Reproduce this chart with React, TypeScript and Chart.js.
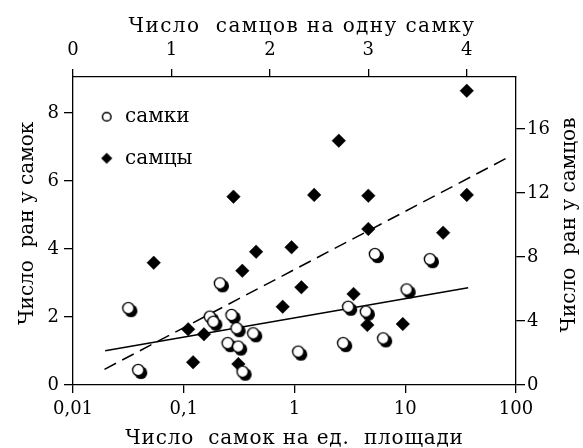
import React, { useEffect, useRef } from 'react';
import { Chart, registerables } from 'chart.js';

Chart.register(...registerables);

const FONT = '"DejaVu Serif", serif';

// Females: density (bottom log axis) vs wounds (left axis)
const femaleDensity = [0.0316, 0.0388, 0.172, 0.185, 0.212, 0.249, 0.27, 0.3, 0.31, 0.34, 0.424, 1.08, 2.75, 3.05, 4.41, 5.32, 6.32, 10.3, 16.7];
const femaleWounds = [2.26, 0.44, 2.01, 1.86, 2.99, 1.23, 2.06, 1.67, 1.13, 0.39, 1.52, 0.98, 1.23, 2.3, 2.16, 3.85, 1.37, 2.81, 3.7];

// Males: males per female (top axis) vs wounds (right axis)
const maleRatio = [0.82, 1.17, 1.22, 1.33, 1.63, 1.68, 1.72, 1.86, 2.13, 2.22, 2.32, 2.45, 2.7, 2.85, 2.99, 3.0, 3.0, 3.35, 3.76, 4.0, 4.0];
const maleWounds = [7.64, 3.48, 1.42, 3.17, 11.77, 1.31, 7.14, 8.33, 4.89, 8.61, 6.11, 11.88, 15.27, 5.69, 3.75, 9.75, 11.83, 3.81, 9.52, 18.39, 11.88];

// Regression lines
const femaleFitX = [0.0195, 37.0];
const femaleFitY = [1.01, 2.86];
const maleFitX = [0.32, 4.42];
const maleFitY = [0.98, 14.23];

// Ticks
const densityTicks = [0.01, 0.1, 1, 10, 100];
const ratioTicks = [0, 1, 2, 3, 4];
const femaleWoundTicks = [0, 2, 4, 6, 8];
const maleWoundTicks = [0, 4, 8, 12, 16];

const legendLabels = ['самки', 'самцы'];
const topTitle = 'Число  самцов на одну самку';
const bottomTitle = 'Число  самок на ед.  площади';
const leftTitle = 'Число  ран у самок';
const rightTitle = 'Число  ран у самцов';

function makeShadowCircle(): HTMLCanvasElement {
  const c = document.createElement('canvas');
  c.width = 22;
  c.height = 22;
  const g = c.getContext('2d')!;
  g.fillStyle = '#000';
  g.beginPath();
  g.arc(13.7, 13.7, 6.4, 0, Math.PI * 2);
  g.fill();
  g.fillStyle = '#fff';
  g.strokeStyle = '#000';
  g.lineWidth = 1.4;
  g.beginPath();
  g.arc(11, 11, 5.6, 0, Math.PI * 2);
  g.fill();
  g.stroke();
  return c;
}

function makeLegendCircle(): HTMLCanvasElement {
  const c = document.createElement('canvas');
  c.width = 16;
  c.height = 14;
  const g = c.getContext('2d')!;
  g.fillStyle = '#fff';
  g.strokeStyle = '#000';
  g.lineWidth = 1.5;
  g.beginPath();
  g.arc(9.9, 7, 4.3, 0, Math.PI * 2);
  g.fill();
  g.stroke();
  return c;
}

function makeLegendDiamond(): HTMLCanvasElement {
  const c = document.createElement('canvas');
  c.width = 16;
  c.height = 14;
  const g = c.getContext('2d')!;
  g.fillStyle = '#000';
  const cx = 9.9, cy = 7, r = 5.6;
  g.beginPath();
  g.moveTo(cx - r, cy);
  g.lineTo(cx, cy - r);
  g.lineTo(cx + r, cy);
  g.lineTo(cx, cy + r);
  g.closePath();
  g.fill();
  return c;
}

const titlesPlugin = {
  id: 'axisTitles',
  afterDraw(chart: any) {
    const { ctx, chartArea } = chart;
    const { left, right, top, bottom } = chartArea;
    ctx.save();
    ctx.fillStyle = '#000';
    ctx.font = `20px ${FONT}`;
    ctx.textAlign = 'center';
    ctx.textBaseline = 'alphabetic';
    ctx.letterSpacing = '1.4px';
    ctx.fillText(topTitle, (left + right) / 2 + 7.5, top - 45.3);
    ctx.letterSpacing = '0.8px';
    ctx.fillText(bottomTitle, (left + right) / 2, bottom + 59);
    ctx.letterSpacing = '0px';
    ctx.save();
    ctx.translate(left - 39.7, (top + bottom) / 2 - 7.7);
    ctx.rotate(-Math.PI / 2);
    ctx.fillText(leftTitle, 0, 0);
    ctx.restore();
    ctx.save();
    ctx.translate(right + 59, (top + bottom) / 2 - 6);
    ctx.rotate(-Math.PI / 2);
    ctx.fillText(rightTitle, 0, 0);
    ctx.restore();
    ctx.restore();
  },
};

export default function App() {
  const ref = useRef<HTMLCanvasElement>(null);

  useEffect(() => {
    const canvas = ref.current;
    if (!canvas) return;
    const circle = makeShadowCircle();
    const legCircle = makeLegendCircle();
    const legDiamond = makeLegendDiamond();
    const tickFont = { family: FONT, size: 18 };
    const axisLine = { color: '#000', width: 1.3 };
    const gridOpts = (len: number) => ({
      display: true,
      drawOnChartArea: false,
      drawTicks: true,
      tickLength: len,
      color: '#000',
      lineWidth: 1.3,
    });

    const chart = new Chart(canvas, {
      type: 'scatter',
      data: {
        datasets: [
          {
            label: legendLabels[0],
            data: femaleDensity.map((x, i) => ({ x, y: femaleWounds[i] })),
            xAxisID: 'x',
            yAxisID: 'y',
            pointStyle: circle,
            pointRadius: 7,
            backgroundColor: '#fff',
            borderColor: '#000',
          },
          {
            label: legendLabels[1],
            data: maleRatio.map((x, i) => ({ x, y: maleWounds[i] })),
            xAxisID: 'x2',
            yAxisID: 'y2',
            pointStyle: 'rectRot',
            pointRadius: 6.8,
            backgroundColor: '#000',
            borderColor: '#000',
            borderWidth: 0.5,
          },
          {
            label: 'fitF',
            data: femaleFitX.map((x, i) => ({ x, y: femaleFitY[i] })),
            xAxisID: 'x',
            yAxisID: 'y',
            showLine: true,
            pointRadius: 0,
            borderColor: '#000',
            borderWidth: 1.5,
          },
          {
            label: 'fitM',
            data: maleFitX.map((x, i) => ({ x, y: maleFitY[i] })),
            xAxisID: 'x2',
            yAxisID: 'y2',
            showLine: true,
            pointRadius: 0,
            borderColor: '#000',
            borderWidth: 1.5,
            borderDash: [13, 7],
          },
        ],
      },
      options: {
        animation: false,
        responsive: false,
        devicePixelRatio: 1,
        layout: { padding: 0 },
        plugins: {
          tooltip: { enabled: false },
          legend: {
            display: true,
            position: 'chartArea',
            align: 'start',
            title: { display: true, text: '', padding: { top: 80.5, bottom: 3.6 }, font: { size: 1, lineHeight: 1 } },
            labels: {
              usePointStyle: true,
              pointStyleWidth: 20.4,
              padding: 21.6,
              color: '#000',
              font: { family: FONT, size: 20 },
              generateLabels: () => [
                { text: legendLabels[0], pointStyle: legCircle, fillStyle: '#fff', strokeStyle: '#000', lineWidth: 0, hidden: false, datasetIndex: 0, fontColor: '#000' },
                { text: legendLabels[1], pointStyle: legDiamond, fillStyle: '#000', strokeStyle: '#000', lineWidth: 0, hidden: false, datasetIndex: 1, fontColor: '#000' },
              ],
            },
          },
        },
        scales: {
          x: {
            type: 'logarithmic',
            position: 'bottom',
            min: 0.01,
            max: 100,
            afterBuildTicks: (s: any) => { s.ticks = densityTicks.map((v) => ({ value: v })); },
            afterFit: (s: any) => { s.height = 63; },
            ticks: {
              autoSkip: false,
              maxRotation: 0,
              padding: 6,
              color: '#000',
              font: tickFont,
              callback: (v: any) => String(v).replace('.', ','),
            },
            grid: gridOpts(8),
            border: axisLine,
          },
          x2: {
            type: 'linear',
            position: 'top',
            min: 0,
            max: 4.5,
            afterBuildTicks: (s: any) => { s.ticks = ratioTicks.map((v) => ({ value: v })); },
            afterFit: (s: any) => { s.height = 77; },
            ticks: { autoSkip: false, maxRotation: 0, padding: 8, color: '#000', font: tickFont },
            grid: gridOpts(8),
            border: axisLine,
          },
          y: {
            type: 'linear',
            position: 'left',
            min: 0,
            max: 9.06,
            afterBuildTicks: (s: any) => { s.ticks = femaleWoundTicks.map((v) => ({ value: v })); },
            afterFit: (s: any) => { s.width = 73; },
            ticks: { autoSkip: false, padding: 5, color: '#000', font: tickFont },
            grid: gridOpts(9),
            border: axisLine,
          },
          y2: {
            type: 'linear',
            position: 'right',
            min: 0,
            max: 19.25,
            afterBuildTicks: (s: any) => { s.ticks = maleWoundTicks.map((v) => ({ value: v })); },
            afterFit: (s: any) => { s.width = 67; },
            ticks: { autoSkip: false, padding: 2, color: '#000', font: tickFont },
            grid: gridOpts(9),
            border: axisLine,
          },
        },
      },
      plugins: [titlesPlugin],
    } as any);

    return () => chart.destroy();
  }, []);

  return (
    <div style={{ position: 'absolute', left: 0, top: 0, width: 583, height: 448, background: '#fff' }}>
      <canvas ref={ref} width={583} height={448} style={{ display: 'block' }} />
    </div>
  );
}
